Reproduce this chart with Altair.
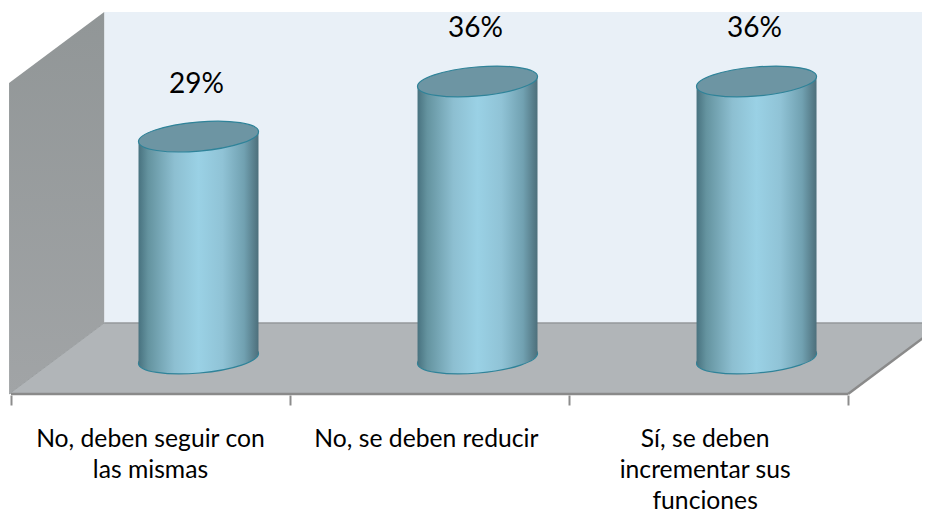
import json
import altair as alt
import pandas as pd

categories = [["No, deben seguir con", "las mismas"], ["No, se deben reducir"], ["Sí, se deben", "incrementar sus", "funciones"]]
values = [28.6, 35.7, 35.7]
value_labels = ["29%", "36%", "36%"]
tick_marks = [0, 1, 2, 3]
label_positions = [0.498, 1.487, 2.486]

FONT = "Lato"
x_dom = [-0.01075, 3.265]
y_dom = [-4.70, 45.17]
depth_x, depth_y = 0.341, 9.15
floor_front, wall_top = -4.57, 44.65
left_front = -0.007
half_w, tilt, center_shift = 0.215, 0.62, 0.672

ellipse = "M-60,5.2 A60.2,14.5 -5 1 1 60,-5.2 A60.2,14.5 -5 1 1 -60,5.2 Z"
stops = [(0, "#48727f"), (0.08, "#64939f"), (0.3, "#8dbfd1"), (0.5, "#9ad1e5"),
         (0.7, "#90c3d6"), (0.88, "#71a1b1"), (1, "#4d6f7b")]
body_grad = alt.LinearGradient(gradient="linear", x1=0, x2=1, y1=0, y2=0,
                               stops=[alt.GradientStop(offset=o, color=c) for o, c in stops])
side_grad = alt.LinearGradient(gradient="linear", x1=0, x2=0, y1=0, y2=1,
                               stops=[alt.GradientStop(offset=0, color="#919697"),
                                      alt.GradientStop(offset=1, color="#a1a4a6")])

label_expr = " : ".join(
    f"datum.value == {p} ? {json.dumps(c, ensure_ascii=False)}" for p, c in zip(label_positions, categories)) + " : ''"

x_axis = alt.Axis(values=sorted(tick_marks + label_positions), labelExpr=label_expr, domain=False, grid=False, title=None,
                  tickSize=10, tickWidth=2, tickColor="#8c8c8c",
                  tickOpacity={"condition": {"test": "datum.value % 1 != 0", "value": 0}, "value": 1},
                  labelFont=FONT, labelFontSize=24.7, labelColor="#000000", labelPadding=34,
                  labelLineHeight=31, labelBaseline="middle", labelAngle=0, labelOverlap=False,
                  labelFlush=False, labelLimit=400)

X = lambda field="x": alt.X(f"{field}:Q", scale=alt.Scale(domain=x_dom, nice=False, zero=False), axis=x_axis)
Y = lambda field="y": alt.Y(f"{field}:Q", scale=alt.Scale(domain=y_dom, nice=False, zero=False), axis=None)

back = pd.DataFrame({"x": [left_front + depth_x, x_dom[1]], "y": [wall_top] * 2, "y2": [floor_front + depth_y] * 2})
side = pd.DataFrame({"x": [left_front, left_front + depth_x],
                     "y": [wall_top - depth_y, wall_top],
                     "y2": [floor_front, floor_front + depth_y]})
floor = pd.DataFrame({"x": [left_front, left_front + depth_x, 3, 3 + depth_x],
                      "y": [floor_front, floor_front + depth_y, floor_front + depth_y, floor_front + depth_y],
                      "y2": [floor_front, floor_front, floor_front, floor_front + depth_y]})
cyl = pd.DataFrame({"x": [i + center_shift for i in range(3)], "value": values, "base": [0, 0, 0],
                    "label": value_labels})
body = pd.DataFrame([
    {"c": i, "x": i + center_shift + s * half_w, "y": v + s * tilt, "y2": s * tilt}
    for i, v in enumerate(values) for s in (-1, 1)
])
edge = pd.DataFrame({"x": [left_front], "y": [floor_front], "x2": [left_front + depth_x], "y2": [floor_front + depth_y]})
back_line = pd.DataFrame({"x": [left_front + depth_x], "x2": [x_dom[1]], "y": [floor_front + depth_y]})
front_line = pd.DataFrame({"x": [0], "x2": [3], "y": [floor_front]})
right_line = pd.DataFrame({"x": [3, 3 + depth_x], "y": [floor_front, floor_front + depth_y]})

axis_layer = alt.Chart(back).mark_area(fill="#e9f0f7").encode(x=X(), y=Y(), y2="y2:Q")
side_layer = alt.Chart(side).mark_area(fill=side_grad).encode(x=X(), y=Y(), y2="y2:Q")
floor_layer = alt.Chart(floor).mark_area(fill="#b1b5b8", clip=True).encode(x=X(), y=Y(), y2="y2:Q")
diag_layer = alt.Chart(edge).mark_rule(color="#9b9fa1", strokeWidth=1).encode(x=X(), x2="x2:Q", y=Y(), y2="y2:Q")
back_line_layer = alt.Chart(back_line).mark_rule(color="#95999b", strokeWidth=1.5).encode(x=X(), x2="x2:Q", y=Y())
front_line_layer = alt.Chart(front_line).mark_rule(color="#8a8a8a", strokeWidth=2.5).encode(x=X(), x2="x2:Q", y=Y())
right_line_layer = alt.Chart(right_line).mark_line(color="#8a8a8a", strokeWidth=2.5, clip=True).encode(x=X(), y=Y())

bottom_cap = alt.Chart(cyl).mark_point(shape=ellipse, size=4, filled=True, fill=body_grad, opacity=1,
                                       stroke="#2f8399", strokeWidth=1.2).encode(x=X(), y=Y("base"))
body_layer = alt.Chart(body).mark_area(fill=body_grad).encode(x=X(), y=Y(), y2="y2:Q", detail="c:N")
top_cap = alt.Chart(cyl).mark_point(shape=ellipse, size=4, filled=True, fill="#6d95a3", opacity=1,
                                    stroke="#2f8399", strokeWidth=1.2).encode(x=X(), y=Y("value"))
text_layer = alt.Chart(cyl).mark_text(font=FONT, fontSize=28, color="#000000", dy=-52, dx=-2).encode(
    x=X(), y=Y("value"), text="label:N")

chart = alt.layer(axis_layer, side_layer, floor_layer, diag_layer, back_line_layer, front_line_layer,
                  right_line_layer, bottom_cap, body_layer, top_cap, text_layer).properties(
    width=914, height=387,
    padding={"left": 0, "top": 0, "right": 0, "bottom": 125},
    autosize=alt.AutoSizeParams(type="none"),
    background="#ffffff",
).configure_view(stroke=None)

chart.save("out.html", embed_options={"renderer": "svg", "actions": False})
